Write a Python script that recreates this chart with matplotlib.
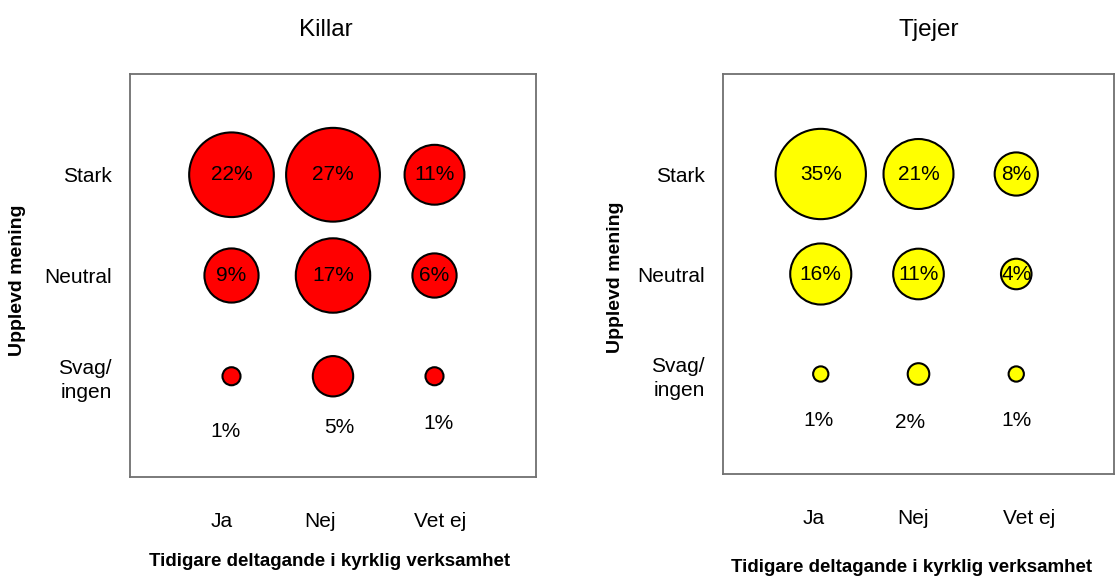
import matplotlib
matplotlib.use("Agg")
import matplotlib.pyplot as plt
import numpy as np

plt.rcParams['font.family'] = ['Liberation Sans', 'DejaVu Sans']

# ---- data ----
x_categories = ["Ja", "Nej", "Vet ej"]
y_categories = ["Svag/\ningen", "Neutral", "Stark"]   # bottom -> top
killar = [  # rows: Svag, Neutral, Stark ; cols: Ja, Nej, Vet ej
    [1, 5, 1],
    [9, 17, 6],
    [22, 27, 11],
]
tjejer = [
    [1, 2, 1],
    [16, 11, 4],
    [35, 21, 8],
]
titles = ["Killar", "Tjejer"]
colors = ["#FF0000", "#FFFF00"]
xlabel = "Tidigare deltagande i kyrklig verksamhet"
ylabel = "Upplevd mening"

W, H, DPI = 1116, 576, 100
fig = plt.figure(figsize=(W / DPI, H / DPI), dpi=DPI)

# axes rectangles in pixels (left, top, right, bottom)
rects = [(130, 74, 536, 477), (723, 74, 1114, 474)]
title_pos = [(326, 30), (929, 30)]
xlabel_pos = [(330, 561), (912, 567)]
ylabel_x = [18, 615]
ylabel_yc = [280, 277]
# category tick-label positions (Excel places them slightly off the bubbles)
xtick_pos = [[0.90, 1.87, 3.06], [0.93, 1.94, 3.13]]
# offsets for labels of the bottom row (placed below the bubbles), in data units
low_dx = [[-0.06, 0.06, 0.04], [-0.02, -0.09, 0.0]]
low_dy = [[-0.55, -0.51, -0.47], [-0.46, -0.49, -0.46]]

for k, (data, title, col) in enumerate(zip([killar, tjejer], titles, colors)):
    l, t, r, b = rects[k]
    ax = fig.add_axes([l / W, 1 - b / H, (r - l) / W, (b - t) / H])
    ax.set_xlim(0, 4)
    ax.set_ylim(0, 4)
    vals = np.array(data, dtype=float)
    xs, ys = np.meshgrid(np.arange(1, 4), np.arange(1, 4))
    ax_w_pt = (r - l) / DPI * 72
    dmax = 0.231 * ax_w_pt
    sizes = (dmax ** 2) * vals / vals.max()
    ax.scatter(xs.ravel(), ys.ravel(), s=sizes.ravel(), c=col,
               edgecolors="black", linewidths=1.5, zorder=3)
    for i in range(3):
        for j in range(3):
            txt = f"{data[i][j]}%"
            if i == 0:
                ax.text(j + 1 + low_dx[k][j], i + 1 + low_dy[k][j], txt,
                        ha="center", va="center", fontsize=15, zorder=4)
            else:
                ax.text(j + 1, i + 1, txt, ha="center", va="center",
                        fontsize=15, zorder=4)
    ax.set_xticks(xtick_pos[k])
    ax.set_xticklabels(x_categories, fontsize=15)
    ax.set_yticks([1, 2, 3])
    ax.set_yticklabels(y_categories, fontsize=15, ha="right", linespacing=1.35)
    ax.tick_params(axis="x", length=0, pad=25)
    ax.tick_params(axis="y", length=0, pad=13)
    for sp in ax.spines.values():
        sp.set_color("#707070")
        sp.set_linewidth(1.3)
    ax.set_xlabel(xlabel, fontsize=13.5, fontweight="bold")
    ax.xaxis.set_label_coords((xlabel_pos[k][0] - l) / (r - l),
                              (b - xlabel_pos[k][1]) / (b - t))
    ax.xaxis.label.set_va("center")
    ax.set_ylabel(ylabel, fontsize=14, fontweight="bold")
    ax.yaxis.set_label_coords((ylabel_x[k] - l) / (r - l),
                              (b - ylabel_yc[k]) / (b - t))
    ax.yaxis.label.set_va("center")
    ax.text((title_pos[k][0] - l) / (r - l), (b - title_pos[k][1]) / (b - t),
            title, transform=ax.transAxes, ha="center", va="center",
            fontsize=17.5)

fig.savefig("out.png", dpi=DPI)
